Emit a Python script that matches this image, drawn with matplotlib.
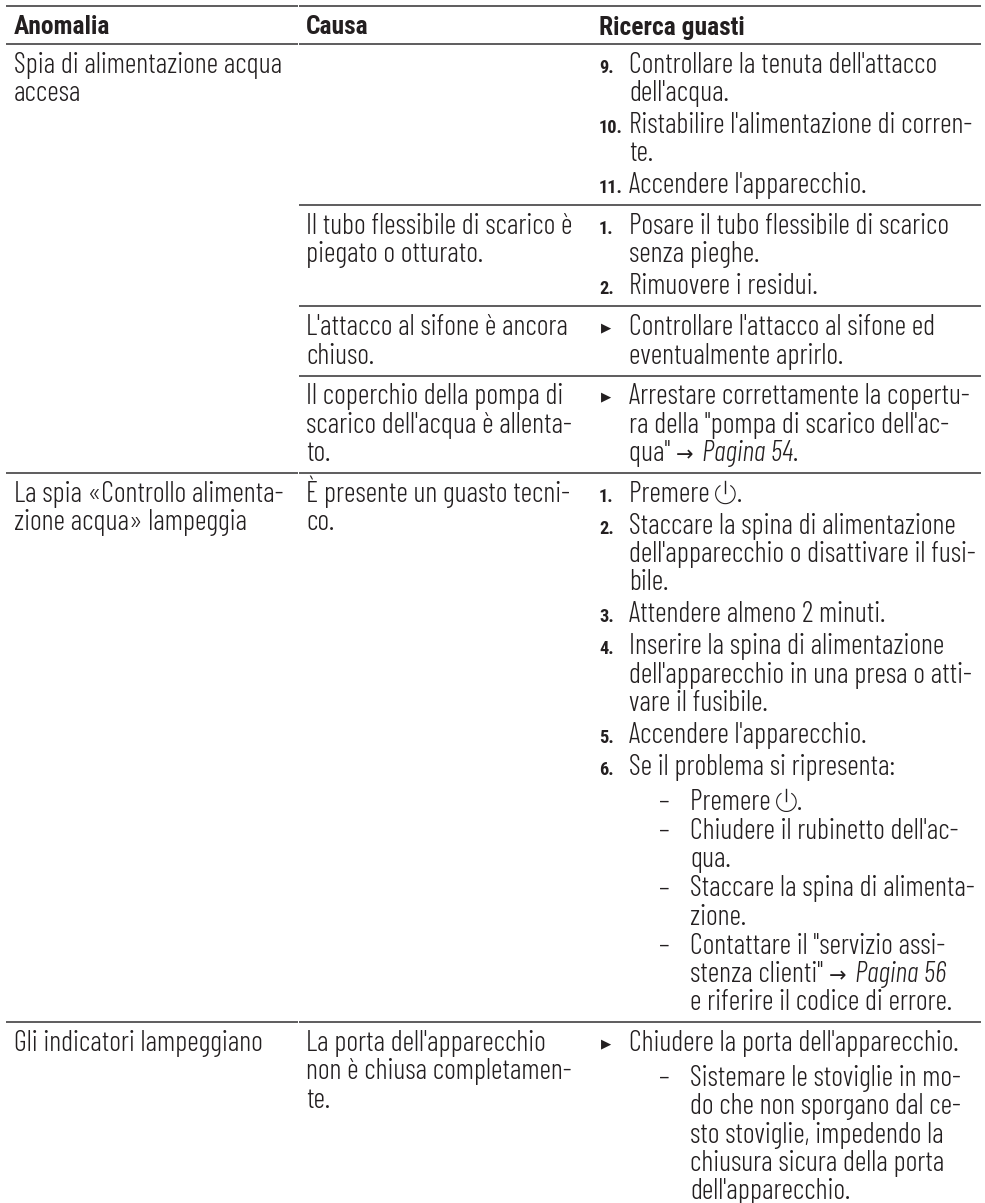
import matplotlib
matplotlib.use('Agg')
import matplotlib.pyplot as plt
from matplotlib.patches import Arc

# table content, row by row: (anomalia lines, causa lines, right column items)
# an item is (kind, marker, lines); {P} power icon, {A} arrow, *...* italic
headers = ['Anomalia', 'Causa', 'Ricerca guasti']

row1_anomalia = ['Spia di alimentazione acqua', 'accesa']
row1_causa = []
row1_items = [
    ('step', '9.', ["Controllare la tenuta dell'attacco", "dell'acqua."]),
    ('step', '10.', ["Ristabilire l'alimentazione di corren-", 'te.']),
    ('step', '11.', ["Accendere l'apparecchio."]),
]

row2_anomalia = []
row2_causa = ['Il tubo flessibile di scarico è', 'piegato o otturato.']
row2_items = [
    ('step', '1.', ['Posare il tubo flessibile di scarico', 'senza pieghe.']),
    ('step', '2.', ['Rimuovere i residui.']),
]

row3_anomalia = []
row3_causa = ["L'attacco al sifone è ancora", 'chiuso.']
row3_items = [
    ('step', '▶', ["Controllare l'attacco al sifone ed", 'eventualmente aprirlo.']),
]

row4_anomalia = []
row4_causa = ['Il coperchio della pompa di', "scarico dell'acqua è allenta-", 'to.']
row4_items = [
    ('step', '▶', ['Arrestare correttamente la copertu-',
                   'ra della "pompa di scarico dell\'ac-',
                   'qua" {A}*Pagina 54*.']),
]

row5_anomalia = ['La spia «Controllo alimenta-', 'zione acqua» lampeggia']
row5_causa = ['È presente un guasto tecni-', 'co.']
row5_items = [
    ('step', '1.', ['Premere {P}.']),
    ('step', '2.', ['Staccare la spina di alimentazione',
                    "dell'apparecchio o disattivare il fusi-", 'bile.']),
    ('step', '3.', ['Attendere almeno 2 minuti.']),
    ('step', '4.', ['Inserire la spina di alimentazione',
                    "dell'apparecchio in una presa o atti-", 'vare il fusibile.']),
    ('step', '5.', ["Accendere l'apparecchio."]),
    ('step', '6.', ['Se il problema si ripresenta:']),
    ('sub', '–', ['Premere {P}.']),
    ('sub', '–', ["Chiudere il rubinetto dell'ac-", 'qua.']),
    ('sub', '–', ['Staccare la spina di alimenta-', 'zione.']),
    ('sub', '–', ['Contattare il "servizio assi-',
                  'stenza clienti" {A}*Pagina 56*', 'e riferire il codice di errore.']),
]

row6_anomalia = ['Gli indicatori lampeggiano']
row6_causa = ["La porta dell'apparecchio", 'non è chiusa completamen-', 'te.']
row6_items = [
    ('step', '▶', ["Chiudere la porta dell'apparecchio."]),
    ('sub', '–', ['Sistemare le stoviglie in mo-', 'do che non sporgano dal ce-',
                  'sto stoviglie, impedendo la', 'chiusura sicura della porta',
                  "dell'apparecchio."]),
]

rows = [
    (row1_anomalia, row1_causa, row1_items),
    (row2_anomalia, row2_causa, row2_items),
    (row3_anomalia, row3_causa, row3_items),
    (row4_anomalia, row4_causa, row4_items),
    (row5_anomalia, row5_causa, row5_items),
    (row6_anomalia, row6_causa, row6_items),
]
# rows 2-4 hang under the same anomalia cell, so no rule in the first column
rule_from_col2 = [True, True, True, False, False, False]

INK = '#231f20'
FONT = ['Barlow Condensed', 'DejaVu Sans']
BOLD_FONT = ['Roboto Condensed', 'DejaVu Sans']
SIZE = 20.5
LINE = 28.2

fig = plt.figure(figsize=(9.85, 12.03), dpi=100)
ax = fig.add_axes([0, 0, 1, 1])
ax.set_xlim(0, 985)
ax.set_ylim(1203, 0)
ax.axis('off')
renderer = fig.canvas.get_renderer()


def rule(y, x0=6):
    # the rules are broken by a hairline where the columns meet
    if x0 < 298:
        ax.plot([x0, 298], [y, y], color='#3a3839', lw=1.15, solid_capstyle='butt')
    ax.plot([298.6, 981], [y, y], color='#3a3839', lw=1.15, solid_capstyle='butt')


def power_icon(x, y):
    ax.add_patch(Arc((x + 10, y - 8), 19.5, 19.5, theta1=-60, theta2=240,
                     color=INK, lw=0.8))
    ax.plot([x + 10, x + 10], [y - 21, y - 9], color=INK, lw=1.0)
    return 21


def draw_line(x, y, s):
    # plain text with italic and icon pieces placed one after the other
    parts = s.replace('{P}', '\0@P\0').replace('{A}', '\0@A\0').replace('*', '\0@I\0')
    italic = False
    for chunk in parts.split('\0'):
        if chunk == '@P':
            x += power_icon(x, y)
            continue
        if chunk == '@A':
            ax.text(x, y, '→', family='DejaVu Sans', fontsize=15, color=INK, va='baseline')
            x += 26
            continue
        if chunk == '@I':
            italic = not italic
            continue
        if not chunk:
            continue
        t = ax.text(x, y, chunk, family=FONT, fontsize=SIZE, color=INK, fontweight=300,
                    style='italic' if italic else 'normal', va='baseline', ha='left')
        x = t.get_window_extent(renderer).x1


rule(6)
rule(43.7)
for x, h in zip([14, 306, 599], headers):
    ax.text(x, 34.5, h, family=BOLD_FONT, fontsize=18.4, fontweight='bold', color=INK, va='baseline')

top = 43.7
for i, (anomalia, causa, items) in enumerate(rows):
    y0 = top + 29
    for k, s in enumerate(anomalia):
        draw_line(14, y0 + k * LINE, s)
    for k, s in enumerate(causa):
        draw_line(306, y0 + k * LINE, s)

    y = y0
    last_kind = None
    for kind, marker, lines in items:
        if last_kind == 'step' and kind == 'sub':
            y += 35 - LINE
        elif last_kind == 'sub':
            y += 1
        elif last_kind == 'step':
            y += 32 - LINE
        if kind == 'step':
            if marker == '▶':
                ax.text(601, y - 4, marker, family='DejaVu Sans', fontsize=9.5, color=INK, va='baseline')
            else:
                ax.text(599, y, marker, family=BOLD_FONT, fontsize=13.2, fontweight='bold', color=INK, va='baseline')
            tx = 629
        else:
            ax.text(659, y, marker, family=FONT, fontsize=SIZE, color=INK, fontweight=300, va='baseline')
            tx = 690
        for s in lines:
            draw_line(tx, y, s)
            y += LINE
        last_kind = kind
    bottom = y - LINE + 12
    top = bottom
    if i < len(rows) - 1:
        rule(bottom, x0=298 if rule_from_col2[i] else 6)

fig.savefig('out.png', dpi=100, facecolor='white')
